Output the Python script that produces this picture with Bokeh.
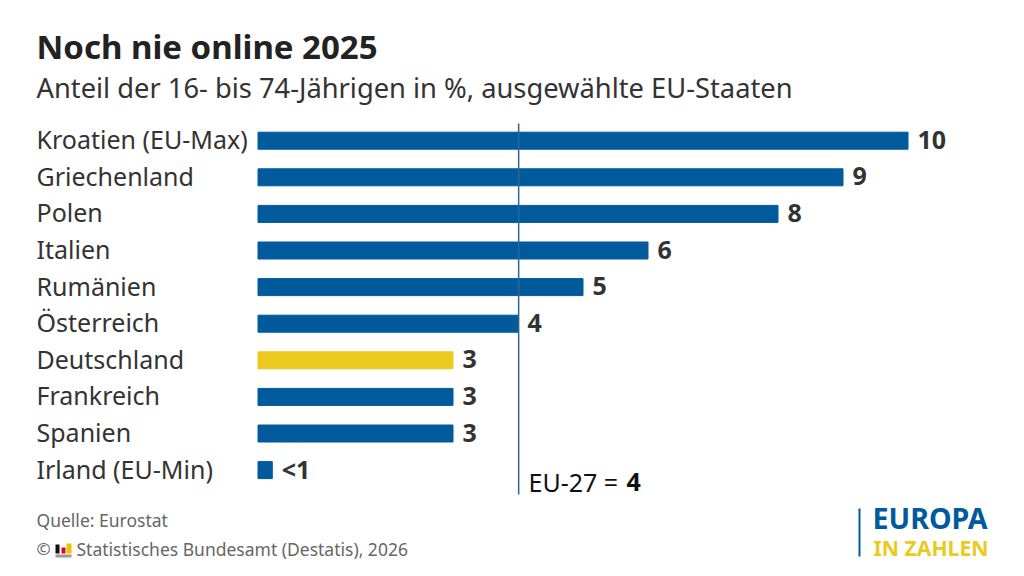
from bokeh.plotting import figure
from bokeh.models import Range1d, Label, BoxAnnotation, ColumnDataSource
from bokeh.core.properties import value
from bokeh.embed import file_html
from bokeh.resources import INLINE

countries = ["Kroatien (EU-Max)", "Griechenland", "Polen", "Italien", "Rumänien",
             "Österreich", "Deutschland", "Frankreich", "Spanien", "Irland (EU-Min)"]
shares = [10, 9, 8, 6, 5, 4, 3, 3, 3, 0.22]
shown = ["10", "9", "8", "6", "5", "4", "3", "3", "3", "<1"]
highlight = "Deutschland"
eu_value = 4

FONT = "Noto Sans"
BLUE = "#005A9C"
YELLOW = "#EBC91E"
DARK = "#333333"
GREY = "#666666"

W, H = 1024, 576
PXU = 65.0   # px per percentage point
ROW = 36.6
X0 = 257.5
Y0 = 140.2

p = figure(width=W, height=H, output_backend="svg", toolbar_location=None,
           x_axis_type=None, y_axis_type=None, min_border=0,
           x_range=Range1d(-X0 / PXU, (W - X0) / PXU),
           y_range=Range1d((H - Y0) / ROW, -Y0 / ROW),
           outline_line_color=None, background_fill_color="white")
p.grid.visible = False

rows = list(range(len(countries)))
colors = [YELLOW if c == highlight else BLUE for c in countries]
label_x = [(36 - X0) / PXU] * len(rows)
src = ColumnDataSource(dict(c=countries, v=shares, s=shown, y=rows, col=colors, lx=label_x))

p.hbar(y="y", left=0, right="v", height=17 / ROW, color="col", source=src)

# reference line
p.segment(x0=[eu_value], x1=[eu_value], y0=[(123 - Y0) / ROW], y1=[(494 - Y0) / ROW],
          line_color="#2E6496", line_width=1.5, x_offset=None) if False else None
p.segment(x0=[eu_value + 0.01], x1=[eu_value + 0.01], y0=[(123 - Y0) / ROW], y1=[(494 - Y0) / ROW],
          line_color="#2E6496", line_width=1.5)

# category labels
p.text(x="lx", y="y", text="c", source=src, y_offset=-1.5, text_font=value(FONT),
       text_font_size="25px", text_color=DARK, text_baseline="middle", text_align="left")

# value labels
p.text(x="v", y="y", text="s", source=src, x_offset=9.5, y_offset=-1, text_font=value(FONT),
       text_font_style="bold", text_font_size="25px", text_color=DARK,
       text_baseline="middle", text_align="left")


def lab(txt, x, y, size, color=DARK, bold=False):
    p.add_layout(Label(x=x, y=H - y + 0.4 * size, x_units="screen", y_units="screen", text=txt,
                       text_font=FONT, text_font_size=f"{size}px", text_color=color,
                       text_font_style="bold" if bold else "normal",
                       text_baseline="alphabetic", text_align="left"))


def box(l, r, t, b, color):
    p.add_layout(BoxAnnotation(left=l, right=r, top=H - t, bottom=H - b,
                               left_units="screen", right_units="screen",
                               top_units="screen", bottom_units="screen",
                               fill_color=color, fill_alpha=1, line_color=None, level="overlay"))


lab("Noch nie online 2025", 36, 59, 33, "#222222", True)
lab("Anteil der 16- bis 74-Jährigen in %, ausgewählte EU-Staaten", 36, 98, 27.3)
lab("EU-27 =", 528, 491, 25, "#111111")
lab("4", 626, 491, 25, "#111111", True)
lab("Quelle: Eurostat", 36, 526, 17.5, GREY)
lab("©", 36, 555, 17, GREY)
lab("Statistisches Bundesamt (Destatis), 2026", 76, 555, 17.5, GREY)
lab("EUROPA", 872, 528, 28.6, BLUE, True)
lab("IN ZAHLEN", 873, 555, 21.2, YELLOW, True)

# Destatis mini icon
box(55, 71, 554, 557, "#999999")
box(55, 59, 544, 553, "#111111")
box(61, 65, 547, 553, "#C8102E")
box(66, 71, 543, 553, "#F2C200")
# Logo rule
box(858, 860, 508, 556, BLUE)

open("out.html", "w").write(file_html(p, INLINE))
